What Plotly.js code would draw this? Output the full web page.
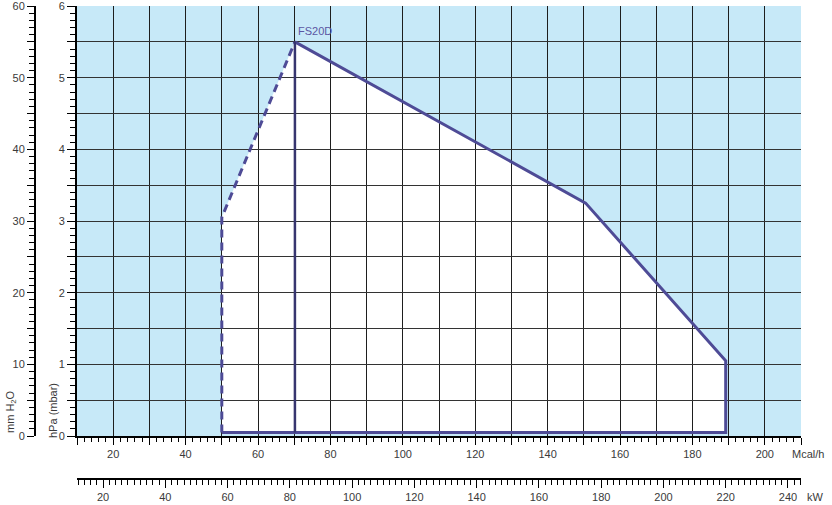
<!DOCTYPE html>
<html>
<head>
<meta charset="utf-8">
<script src="https://cdn.plot.ly/plotly-3.0.1.min.js"></script>
<style>
  html, body { margin: 0; padding: 0; background: #fff; }
  #chart { width: 832px; height: 505px; }
</style>
</head>
<body>
<div id="chart"></div>
<script>
// ---- data (Mcal/h vs hPa) ----
const boundaryMcal = [50, 50, 70.2, 150.5, 189.2, 189.2];
const boundaryHpa  = [0.05, 3.05, 5.5, 3.25, 1.05, 0.05];
const curveLabel = 'FS20D';
const mcalRange = [10, 210];
const hpaRange = [0, 6];
const mmRange = [0, 60];
const kwPerMcal = 1 / 0.86;
const kwRange = [mcalRange[0] * kwPerMcal, mcalRange[1] * kwPerMcal];

const LINE = '#4e4b96';
const LINE_DARK = '#37356f';
const BLUE = '#c7e9f8';
const FONT = 'Liberation Sans, Arial, sans-serif';
const TICKFONT = { family: FONT, size: 11, color: '#3a3a3a' };

const W = 832, H = 505;
const mL = 0, mR = 31, mT = 6, mB = 10;
const pw = W - mL - mR, ph = H - mT - mB;
const plotLeft = 77, plotBottom = 436;
const xDom = [(plotLeft - mL) / pw, 1];
const yDom = [(H - mB - plotBottom) / ph, 1];
const px = v => (v - mL) / pw;
const py = v => (H - mB - v) / ph;

function alias(list) { const o = {}; list.forEach(k => o[k] = ''); return o; }

// dashed part: indices 0..2 ; solid outline: 2..5 and back to 0
const dashX = boundaryMcal.slice(0, 3), dashY = boundaryHpa.slice(0, 3);
const solidX = boundaryMcal.slice(2).concat([boundaryMcal[0]]);
const solidY = boundaryHpa.slice(2).concat([boundaryHpa[0]]);
const vertX = [boundaryMcal[2], boundaryMcal[2]];
const vertY = [boundaryHpa[2], boundaryHpa[0]];

const traces = [
  { x: boundaryMcal, y: boundaryHpa, xaxis: 'x', yaxis: 'y', mode: 'none',
    fill: 'toself', fillcolor: '#ffffff', hoverinfo: 'skip', showlegend: false },
  { x: [], y: [], xaxis: 'x', yaxis: 'y3', mode: 'lines', showlegend: false, hoverinfo: 'skip' },
  { x: [], y: [], xaxis: 'x3', yaxis: 'y', mode: 'lines', showlegend: false, hoverinfo: 'skip' },
  { x: dashX, y: dashY, xaxis: 'x2', yaxis: 'y2', mode: 'lines',
    line: { color: LINE, width: 3, dash: '8px,5px' }, hoverinfo: 'skip', showlegend: false },
  { x: solidX, y: solidY, xaxis: 'x2', yaxis: 'y2', mode: 'lines',
    line: { color: LINE, width: 3 }, hoverinfo: 'skip', showlegend: false },
  { x: vertX, y: vertY, xaxis: 'x2', yaxis: 'y2', mode: 'lines',
    line: { color: LINE_DARK, width: 2.5 }, hoverinfo: 'skip', showlegend: false }
];

const tickCommon = {
  ticks: 'outside', tickcolor: '#000', tickwidth: 1, tickfont: TICKFONT,
  showgrid: false, zeroline: false, fixedrange: true, ticklabeloverflow: 'allow'
};

const layout = {
  width: W, height: H,
  margin: { l: mL, r: mR, t: mT, b: mB, pad: 0 },
  paper_bgcolor: '#ffffff',
  plot_bgcolor: 'rgba(0,0,0,0)',
  showlegend: false,
  font: { family: FONT, size: 11, color: '#3a3a3a' },
  xaxis: Object.assign({}, tickCommon, {
    domain: xDom, anchor: 'y', range: mcalRange,
    tickmode: 'linear', tick0: 0, dtick: 10, ticklen: 7,
    labelalias: alias(['10','30','50','70','90','110','130','150','170','190','210']),
    minor: { tick0: 0, dtick: 2, ticklen: 4, tickcolor: '#000', tickwidth: 1, showgrid: false },
    showline: true, linecolor: '#000', linewidth: 2
  }),
  yaxis: Object.assign({}, tickCommon, {
    domain: yDom, anchor: 'x', range: hpaRange,
    tickmode: 'linear', tick0: 0, dtick: 0.5, ticklen: 8,
    labelalias: alias(['0.5','1.5','2.5','3.5','4.5','5.5']),
    minor: { tick0: 0, dtick: 0.1, ticklen: 5, tickcolor: '#000', tickwidth: 1, showgrid: false },
    showline: true, linecolor: '#000', linewidth: 2
  }),
  xaxis2: {
    domain: xDom, anchor: 'y2', range: mcalRange, tickmode: 'linear', tick0: 0, dtick: 10,
    showgrid: true, gridcolor: '#1e1e1e', gridwidth: 1, showticklabels: false, ticks: '',
    zeroline: false, showline: false, fixedrange: true
  },
  yaxis2: {
    domain: yDom, anchor: 'x2', range: hpaRange, tickmode: 'linear', tick0: 0, dtick: 0.5,
    showgrid: true, gridcolor: '#333333', gridwidth: 1, showticklabels: false, ticks: '',
    zeroline: false, showline: false, fixedrange: true
  },
  yaxis3: Object.assign({}, tickCommon, {
    overlaying: 'y', anchor: 'free', position: px(35), side: 'left', range: mmRange,
    tickmode: 'linear', tick0: 0, dtick: 5, ticklen: 7,
    labelalias: alias(['5','15','25','35','45','55']),
    minor: { tick0: 0, dtick: 1, ticklen: 5, tickcolor: '#000', tickwidth: 1, showgrid: false },
    showline: true, linecolor: '#000', linewidth: 2
  }),
  xaxis3: Object.assign({}, tickCommon, {
    overlaying: 'x', anchor: 'free', position: py(478), side: 'bottom', range: kwRange,
    tickmode: 'linear', tick0: 0, dtick: 20, ticklen: 8,
    minor: { tick0: 0, dtick: 2, ticklen: 5, tickcolor: '#000', tickwidth: 1, showgrid: false },
    showline: true, linecolor: '#000', linewidth: 1.5
  }),
  shapes: [
    { type: 'rect', xref: 'x domain', yref: 'y domain', x0: 0, x1: 1, y0: 0, y1: 1,
      fillcolor: BLUE, line: { width: 0 }, layer: 'below' }
  ],
  annotations: [
    { text: curveLabel, x: boundaryMcal[2], y: boundaryHpa[2], xref: 'x2', yref: 'y2',
      xanchor: 'left', yanchor: 'bottom', xshift: 1, yshift: 3, showarrow: false,
      font: { family: FONT, size: 11, color: '#5b56a3' } },
    { text: 'Mcal/h', xref: 'paper', yref: 'paper', x: px(790), y: py(454),
      xanchor: 'left', yanchor: 'middle', showarrow: false, font: TICKFONT },
    { text: 'kW', xref: 'paper', yref: 'paper', x: px(805), y: py(497),
      xanchor: 'left', yanchor: 'middle', showarrow: false, font: TICKFONT },
    { text: 'mm H<sub>2</sub>O', xref: 'paper', yref: 'paper', x: px(11), y: py(412),
      xanchor: 'center', yanchor: 'middle', textangle: -90, showarrow: false, font: TICKFONT },
    { text: 'hPa (mbar)', xref: 'paper', yref: 'paper', x: px(53), y: py(410),
      xanchor: 'center', yanchor: 'middle', textangle: -90, showarrow: false, font: TICKFONT }
  ]
};

Plotly.newPlot('chart', traces, layout, { staticPlot: true, displayModeBar: false });
</script>
</body>
</html>
